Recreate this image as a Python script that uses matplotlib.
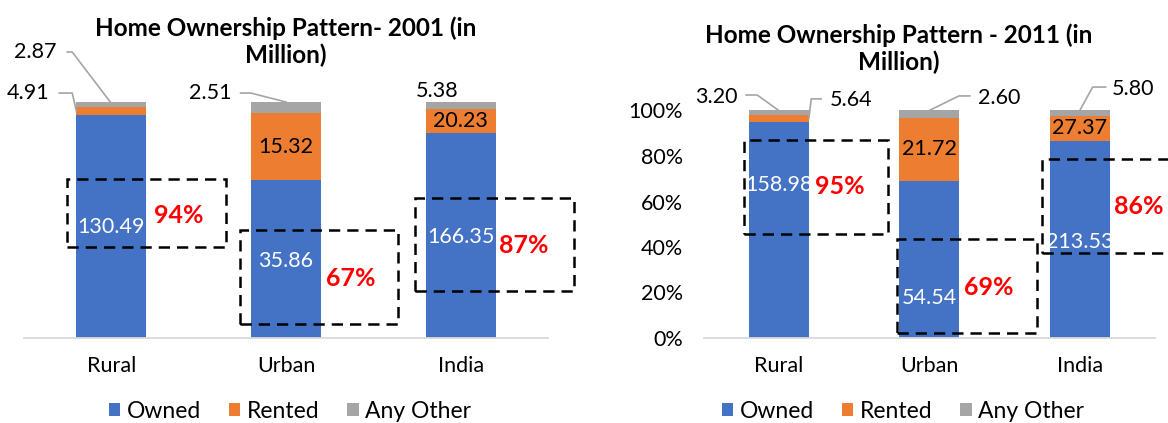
import numpy as np
import matplotlib.pyplot as plt
from matplotlib.patches import Rectangle

plt.rcParams['font.family'] = ['Lato', 'DejaVu Sans']

categories = ["Rural", "Urban", "India"]
series = ["Owned", "Rented", "Any Other"]
colors = ["#4472C4", "#ED7D31", "#A5A5A5"]

owned_2001 = [130.49, 35.86, 166.35]
rented_2001 = [4.91, 15.32, 20.23]
other_2001 = [2.87, 2.51, 5.38]
pct_2001 = ["94%", "67%", "87%"]

owned_2011 = [158.98, 54.54, 213.53]
rented_2011 = [5.64, 21.72, 27.37]
other_2011 = [3.20, 2.60, 5.80]
pct_2011 = ["95%", "69%", "86%"]

# label placement (data coords of each panel)
layout_2001 = {
    "own_y": [0.470, 0.326, 0.428],
    "pct_xy": [(0.385, 0.521), (1.372, 0.254), (2.364, 0.394)],
    "boxes": [(-0.252, 0.386, 0.654, 0.674), (0.735, 0.059, 1.641, 0.458),
              (1.739, 0.199, 2.646, 0.593)],
    "outside": {
        (1, 0): ((-0.476, 1.038), [(-0.298, 1.038), (-0.224, 1.038), (-0.2, 0.961)]),
        (2, 0): ((-0.436, 1.212), [(-0.2525, 1.212), (-0.224, 1.212), (-0.006, 1.0)]),
        (2, 1): ((0.568, 1.038), [(0.740, 1.038), (0.798, 1.038), (1.0, 1.0)]),
        (2, 2): ((1.865, 1.047), None),
    },
}
layout_2011 = {
    "own_y": [0.673, 0.176, 0.422],
    "pct_xy": [(0.408, 0.664), (1.396, 0.224), (2.395, 0.576)],
    "boxes": [(-0.229, 0.457, 0.726, 0.870), (0.786, 0.022, 1.715, 0.435),
              (1.748, 0.374, 2.8, 0.787)],
    "outside": {
        (1, 0): ((0.481, 1.046), [(0.282, 1.051), (0.216, 1.051), (0.2, 0.964)]),
        (2, 0): ((-0.415, 1.059), [(-0.216, 1.068), (-0.143, 1.068), (0.0, 1.0)]),
        (2, 1): ((1.463, 1.055), [(1.270, 1.064), (1.197, 1.064), (1.0, 1.0)]),
        (2, 2): ((2.352, 1.095), [(2.172, 1.103), (2.086, 1.103), (2.0, 1.0)]),
    },
}

FS = 15.5


def draw_panel(ax, owned, rented, other, pcts, lay, show_y):
    vals = np.array([owned, rented, other])
    shares = vals / vals.sum(axis=0)
    x = np.arange(len(categories))
    bottom = np.zeros(len(categories))
    for k in range(3):
        ax.bar(x, shares[k], 0.4, bottom=bottom, color=colors[k], label=series[k])
        for i in range(len(categories)):
            txt = "%.2f" % vals[k, i]
            if k == 0:
                ax.text(x[i], lay["own_y"][i], txt, color="white", fontsize=FS,
                        ha="center", va="center")
            elif (k, i) in lay["outside"]:
                pos, leader = lay["outside"][(k, i)]
                ax.text(pos[0], pos[1], txt, color="black", fontsize=FS,
                        ha="center", va="center", clip_on=False)
                if leader:
                    lx, ly = zip(*leader)
                    ax.plot(lx, ly, color="#A5A5A5", lw=1.2, clip_on=False)
            else:
                ax.text(x[i], bottom[i] + shares[k, i] / 2, txt, color="black",
                        fontsize=FS, ha="center", va="center")
        bottom += shares[k]

    for (x0, y0, x1, y1), (px, py), p in zip(lay["boxes"], lay["pct_xy"], pcts):
        ax.add_patch(Rectangle((x0, y0), x1 - x0, y1 - y0, fill=False, ec="black",
                               lw=1.8, ls=(0, (4.5, 2.8)), clip_on=False, zorder=5))
        ax.text(px, py, p, color="#FF0000", fontsize=18, fontweight="bold",
                ha="center", va="center", clip_on=False)

    ax.set_xlim(-0.5, 2.5)
    ax.set_ylim(0, 1)
    ax.set_xticks(x)
    ax.set_xticklabels(categories, fontsize=FS)
    ax.tick_params(axis="x", length=0, pad=13)
    for s in ["top", "right", "left"]:
        ax.spines[s].set_visible(False)
    ax.spines["bottom"].set_color("#D9D9D9")
    ax.spines["bottom"].set_linewidth(1.3)
    if show_y:
        ax.set_yticks(np.linspace(0, 1, 6))
        ax.set_yticklabels(["%d%%" % v for v in range(0, 101, 20)], fontsize=FS)
        ax.tick_params(axis="y", length=0, pad=15)
    else:
        ax.set_yticks([])


fig = plt.figure(figsize=(11.68, 4.23), dpi=100)
ax1 = fig.add_axes([24 / 1168, 85 / 423, 524 / 1168, 236 / 423])
ax2 = fig.add_axes([703.5 / 1168, 85 / 423, 451.5 / 1168, 227.5 / 423])

draw_panel(ax1, owned_2001, rented_2001, other_2001, pct_2001, layout_2001, False)
draw_panel(ax2, owned_2011, rented_2011, other_2011, pct_2011, layout_2011, True)

fig.text(286 / 1168, 1 - 41.5 / 423, "Home Ownership Pattern- 2001 (in\nMillion)",
         ha="center", va="center", fontsize=17.5, fontweight="bold", linespacing=1.18)
fig.text(899 / 1168, 1 - 49 / 423, "Home Ownership Pattern - 2011 (in\nMillion)",
         ha="center", va="center", fontsize=17.5, fontweight="bold", linespacing=1.18)

for ax, cx in [(ax1, 290 / 1168), (ax2, 903 / 1168)]:
    ax.legend(loc="center", bbox_to_anchor=(cx, 11.5 / 423), bbox_transform=fig.transFigure,
              ncol=3, frameon=False, fontsize=16.5, handlelength=0.5, handleheight=0.5,
              handletextpad=0.3, columnspacing=1.2, borderpad=0)

fig.savefig("out.png", dpi=100)
